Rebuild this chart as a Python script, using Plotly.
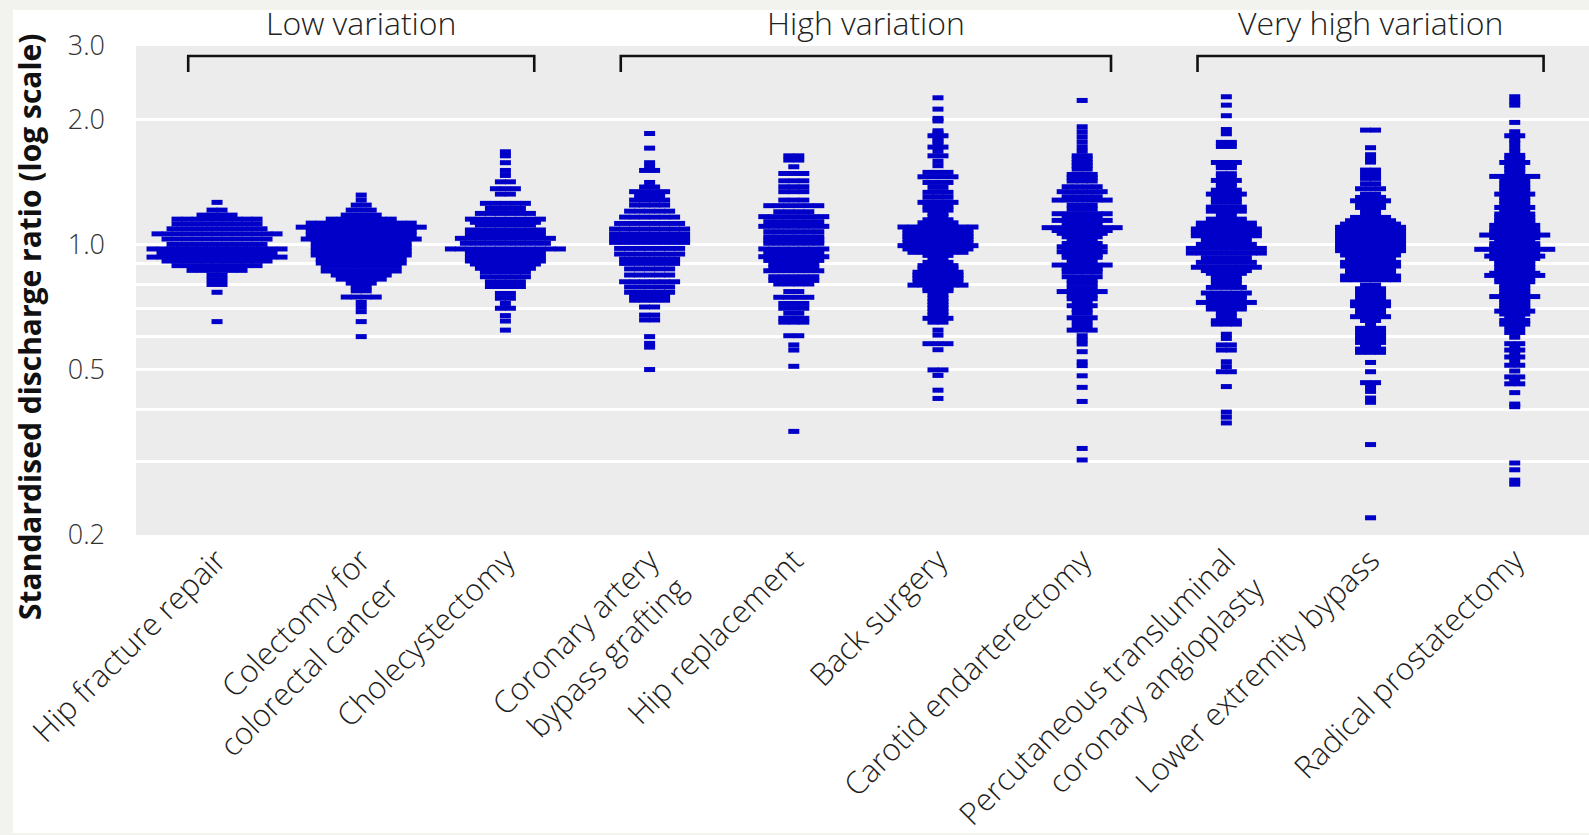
import math
import plotly.graph_objects as go

# ---------------- data ----------------
categories = [
    "Hip fracture repair",
    "Colectomy for<br>colorectal cancer",
    "Cholecystectomy",
    "Coronary artery<br>bypass grafting",
    "Hip replacement",
    "Back surgery",
    "Carotid endarterectomy",
    "Percutaneous transluminal<br>coronary angioplasty",
    "Lower extremity bypass",
    "Radical prostatectomy",
]

# each entry: [standardised discharge ratio, number of hospitals at that level]
hip_fracture_repair = [
    [1.262, 1], [1.209, 2], [1.176, 4], [1.150, 9], [1.120, 9], [1.090, 10], [1.060, 13],
    [1.030, 11], [1.000, 10], [0.975, 14], [0.953, 12], [0.932, 14], [0.912, 11], [0.889, 9],
    [0.866, 6], [0.844, 2], [0.823, 2], [0.801, 2], [0.767, 1], [0.652, 1],
]
colectomy = [
    [1.314, 1], [1.278, 1], [1.243, 2], [1.209, 3], [1.176, 4], [1.150, 7], [1.125, 11],
    [1.100, 13], [1.077, 11], [1.053, 11], [1.030, 12], [1.007, 10], [0.985, 10], [0.964, 10],
    [0.943, 10], [0.922, 9], [0.902, 9], [0.885, 8], [0.863, 8], [0.844, 6], [0.825, 5],
    [0.807, 3], [0.790, 2], [0.773, 2], [0.747, 4], [0.725, 1], [0.707, 1], [0.689, 1],
    [0.652, 1], [0.600, 1],
]
cholecystectomy = [
    [1.670, 1], [1.633, 1], [1.572, 1], [1.506, 1], [1.465, 1], [1.414, 2], [1.361, 3],
    [1.321, 2], [1.255, 5], [1.220, 4], [1.187, 6], [1.150, 8], [1.130, 7], [1.113, 6],
    [1.083, 8], [1.057, 8], [1.034, 10], [1.006, 9], [0.975, 12], [0.951, 8], [0.929, 8],
    [0.912, 8], [0.897, 7], [0.876, 6], [0.860, 5], [0.836, 5], [0.813, 4], [0.792, 4],
    [0.762, 2], [0.742, 2], [0.721, 1], [0.702, 2], [0.674, 1], [0.654, 1], [0.622, 1],
]
cabg = [
    [1.848, 1], [1.704, 1], [1.572, 1], [1.540, 1], [1.506, 2], [1.409, 1], [1.374, 2],
    [1.339, 4], [1.308, 3], [1.278, 4], [1.243, 4], [1.202, 5], [1.163, 6], [1.123, 7],
    [1.089, 8], [1.059, 8], [1.034, 8], [1.011, 8], [0.978, 7], [0.948, 7], [0.922, 6],
    [0.900, 6], [0.873, 5], [0.844, 5], [0.813, 6], [0.790, 5], [0.767, 5], [0.750, 4],
    [0.734, 4], [0.707, 2], [0.676, 2], [0.658, 2], [0.600, 1], [0.578, 1], [0.566, 1],
    [0.500, 1],
]
hip_replacement = [
    [1.633, 2], [1.595, 2], [1.537, 1], [1.481, 3], [1.422, 3], [1.376, 3], [1.339, 3],
    [1.278, 3], [1.239, 6], [1.198, 4], [1.166, 7], [1.134, 6], [1.105, 7], [1.073, 6],
    [1.043, 6], [1.024, 6], [1.006, 6], [0.975, 7], [0.951, 6], [0.934, 7], [0.915, 6],
    [0.897, 5], [0.880, 5], [0.864, 6], [0.836, 5], [0.819, 5], [0.803, 4], [0.770, 2],
    [0.746, 4], [0.721, 3], [0.702, 3], [0.683, 2], [0.664, 3], [0.650, 3], [0.603, 2],
    [0.573, 1], [0.557, 1], [0.509, 1], [0.355, 1],
]
back_surgery = [
    [2.252, 1], [2.115, 1], [2.009, 1], [1.981, 1], [1.876, 1], [1.850, 1], [1.825, 2],
    [1.797, 1], [1.772, 1], [1.745, 1], [1.714, 2], [1.675, 1], [1.633, 2], [1.585, 1],
    [1.546, 1], [1.490, 3], [1.454, 4], [1.409, 3], [1.371, 2], [1.334, 3], [1.298, 3],
    [1.262, 4], [1.236, 3], [1.209, 3], [1.187, 2], [1.166, 2], [1.146, 3], [1.127, 4],
    [1.101, 8], [1.082, 7], [1.063, 7], [1.046, 7], [1.030, 7], [1.010, 7], [0.993, 8],
    [0.975, 7], [0.957, 6], [0.941, 3], [0.925, 2], [0.905, 3], [0.889, 4], [0.872, 4],
    [0.857, 5], [0.843, 5], [0.829, 5], [0.813, 5], [0.798, 6], [0.785, 3], [0.774, 3],
    [0.758, 2], [0.742, 2], [0.728, 2], [0.715, 2], [0.702, 2], [0.689, 2], [0.676, 2],
    [0.664, 3], [0.650, 2], [0.622, 1], [0.605, 1], [0.577, 3], [0.558, 1], [0.499, 2],
    [0.484, 1], [0.446, 1], [0.426, 1],
]
carotid_endarterectomy = [
    [2.219, 1], [1.918, 1], [1.866, 1], [1.815, 1], [1.765, 1], [1.717, 1], [1.675, 1],
    [1.633, 2], [1.603, 2], [1.574, 2], [1.545, 2], [1.517, 2], [1.473, 3], [1.447, 3],
    [1.420, 3], [1.376, 4], [1.339, 5], [1.302, 4], [1.278, 6], [1.243, 3], [1.215, 3],
    [1.185, 6], [1.163, 4], [1.142, 6], [1.118, 4], [1.097, 8], [1.080, 6], [1.063, 5],
    [1.043, 4], [1.024, 3], [1.005, 4], [0.987, 5], [0.973, 4], [0.960, 5], [0.945, 4],
    [0.931, 4], [0.912, 3], [0.892, 6], [0.875, 4], [0.860, 4], [0.836, 4], [0.820, 3],
    [0.806, 3], [0.787, 3], [0.770, 5], [0.754, 3], [0.740, 3], [0.726, 2], [0.712, 3],
    [0.697, 2], [0.683, 2], [0.666, 3], [0.652, 2], [0.636, 2], [0.622, 3], [0.603, 1],
    [0.589, 1], [0.576, 1], [0.552, 1], [0.522, 1], [0.511, 1], [0.483, 1], [0.453, 1],
    [0.419, 1], [0.323, 1], [0.303, 1],
]
ptca = [
    [2.265, 1], [2.162, 1], [2.039, 1], [1.889, 1], [1.845, 1], [1.759, 2], [1.720, 2],
    [1.574, 3], [1.551, 2], [1.529, 2], [1.479, 2], [1.454, 2], [1.425, 3], [1.400, 2],
    [1.379, 2], [1.350, 3], [1.321, 4], [1.290, 3], [1.262, 3], [1.229, 4], [1.202, 4],
    [1.176, 2], [1.150, 4], [1.125, 6], [1.107, 6], [1.089, 7], [1.069, 7], [1.049, 7],
    [1.022, 5], [1.000, 6], [0.978, 8], [0.953, 8], [0.929, 5], [0.905, 6], [0.881, 7],
    [0.865, 5], [0.852, 4], [0.837, 3], [0.822, 3], [0.804, 3], [0.788, 4], [0.764, 5],
    [0.752, 4], [0.742, 4], [0.725, 6], [0.712, 4], [0.699, 4], [0.684, 2], [0.670, 2],
    [0.655, 3], [0.643, 3], [0.608, 1], [0.594, 1], [0.573, 2], [0.557, 2], [0.522, 1],
    [0.508, 1], [0.494, 2], [0.455, 1], [0.395, 1], [0.384, 1], [0.372, 1],
]
lower_extremity_bypass = [
    [1.883, 2], [1.708, 1], [1.643, 1], [1.607, 1], [1.577, 1], [1.509, 2], [1.473, 2],
    [1.441, 2], [1.399, 2], [1.361, 3], [1.321, 2], [1.297, 3], [1.273, 4], [1.250, 3],
    [1.227, 3], [1.205, 2], [1.183, 2], [1.161, 4], [1.140, 5], [1.119, 6], [1.099, 7],
    [1.079, 7], [1.059, 7], [1.039, 7], [1.020, 7], [1.000, 7], [0.984, 7], [0.966, 7],
    [0.943, 6], [0.922, 5], [0.905, 6], [0.887, 6], [0.871, 5], [0.855, 5], [0.839, 6],
    [0.822, 6], [0.798, 2], [0.782, 3], [0.768, 3], [0.754, 3], [0.742, 3], [0.727, 4],
    [0.712, 4], [0.695, 3], [0.682, 3], [0.670, 4], [0.656, 2], [0.643, 1], [0.628, 3],
    [0.615, 3], [0.603, 3], [0.592, 3], [0.581, 3], [0.571, 2], [0.560, 3], [0.550, 3],
    [0.520, 1], [0.494, 1], [0.465, 2], [0.454, 1], [0.443, 1], [0.427, 1], [0.417, 1],
    [0.330, 1], [0.220, 1],
]
radical_prostatectomy = [
    [2.265, 1], [2.211, 1], [2.162, 1], [1.965, 1], [1.866, 1], [1.825, 2], [1.781, 1],
    [1.749, 1], [1.708, 1], [1.670, 1], [1.637, 2], [1.604, 2], [1.574, 3], [1.546, 2],
    [1.517, 2], [1.487, 2], [1.457, 5], [1.428, 3], [1.397, 3], [1.371, 3], [1.346, 3],
    [1.321, 4], [1.297, 3], [1.273, 3], [1.250, 3], [1.227, 4], [1.205, 3], [1.183, 4],
    [1.161, 4], [1.142, 4], [1.125, 4], [1.111, 5], [1.097, 4], [1.083, 5], [1.067, 5],
    [1.053, 7], [1.038, 5], [1.020, 4], [1.004, 5], [0.989, 5], [0.973, 8], [0.955, 5],
    [0.937, 6], [0.925, 5], [0.914, 4], [0.897, 4], [0.881, 4], [0.864, 4], [0.852, 5],
    [0.842, 6], [0.829, 4], [0.813, 4], [0.798, 3], [0.784, 3], [0.770, 3], [0.758, 3],
    [0.749, 5], [0.736, 3], [0.725, 3], [0.712, 3], [0.702, 3], [0.691, 4], [0.680, 3],
    [0.670, 2], [0.656, 3], [0.643, 3], [0.631, 2], [0.614, 2], [0.598, 1], [0.577, 2],
    [0.567, 1], [0.557, 2], [0.547, 1], [0.536, 2], [0.524, 1], [0.512, 2], [0.496, 1],
    [0.480, 2], [0.470, 1], [0.462, 2], [0.440, 1], [0.413, 1], [0.407, 1], [0.298, 1],
    [0.287, 1], [0.271, 1], [0.265, 1],
]

swarms = [
    hip_fracture_repair, colectomy, cholecystectomy, cabg, hip_replacement,
    back_surgery, carotid_endarterectomy, ptca, lower_extremity_bypass,
    radical_prostatectomy,
]

group_labels = ["Low variation", "High variation", "Very high variation"]
group_first = [0, 3, 7]
group_last = [2, 6, 9]

ytick_vals = [0.2, 0.5, 1.0, 2.0, 3.0]
ytick_text = ["0.2", "0.5", "1.0", "2.0", "3.0"]
minor_grid_vals = [0.3, 0.4, 0.6, 0.7, 0.8, 0.9]

# ---------------- geometry & style ----------------
W, H = 1589, 835
ML, MR, MT, MB = 136, 0, 46, 300
PW, PH = W - ML - MR, H - MT - MB
X_RANGE = [-0.562, 9.515]
DASH_PX = 10
step = DASH_PX * (X_RANGE[1] - X_RANGE[0]) / PW
BLUE = "#0000c8"
FONT = "Open Sans"

xs, ys = [], []
for i, rows in enumerate(swarms):
    for ratio, n in rows:
        for k in range(n):
            xs.append(i + (k - (n - 1) / 2) * step)
            ys.append(ratio)

fig = go.Figure()
fig.add_trace(go.Scatter(
    x=xs, y=ys, mode="markers", hoverinfo="skip", showlegend=False,
    marker=dict(symbol="line-ew", size=(DASH_PX + 1) / 1.4, color=BLUE,
                line=dict(color=BLUE, width=5)),
))

def px_to_paper_x(px):
    return (px - ML) / PW

def px_to_paper_y(py):
    return (MT + PH - py) / PH

shapes = [
    # white canvas inside the light frame
    dict(type="rect", xref="paper", yref="paper", layer="below",
         x0=px_to_paper_x(13), x1=1.02, y0=px_to_paper_y(833), y1=px_to_paper_y(10),
         fillcolor="white", line=dict(width=0)),
    # grey panel
    dict(type="rect", xref="paper", yref="paper", layer="below",
         x0=0, x1=1, y0=0, y1=1, fillcolor="#ececec", line=dict(width=0)),
]
y_bar = px_to_paper_y(56)
y_tip = px_to_paper_y(72)
annotations = []
for name, a, b in zip(group_labels, group_first, group_last):
    x0, x1 = a - 0.2, b + 0.2
    shapes.append(dict(type="path", xref="x", yref="paper",
                       path=f"M {x0},{y_tip} L {x0},{y_bar} L {x1},{y_bar} L {x1},{y_tip}",
                       line=dict(color="#111111", width=2.6)))
    annotations.append(dict(x=(a + b) / 2, y=px_to_paper_y(22), xref="x", yref="paper",
                            text=name, showarrow=False, xanchor="center", yanchor="middle",
                            font=dict(family=FONT, size=32, color="#222222", weight=300)))

annotations.append(dict(
    x=px_to_paper_x(30), y=px_to_paper_y(327), xref="paper", yref="paper",
    text="<b>Standardised discharge ratio (log scale)</b>", textangle=-90,
    showarrow=False, xanchor="center", yanchor="middle",
    font=dict(family=FONT, size=30, color="#111111")))

fig.update_layout(
    width=W, height=H, autosize=False,
    margin=dict(l=ML, r=MR, t=MT, b=MB, pad=0, autoexpand=False),
    paper_bgcolor="#f2f2ee",
    plot_bgcolor="#ececec",
    shapes=shapes,
    annotations=annotations,
    xaxis=dict(range=X_RANGE, tickmode="array", tickvals=list(range(len(categories))),
               ticktext=categories, tickangle=-45, showgrid=False, zeroline=False,
               showline=False, ticks="", fixedrange=True, automargin=False,
               tickfont=dict(family=FONT, size=31, color="#1e1e1e", weight=300)),
    yaxis=dict(type="log", range=[math.log10(0.2), math.log10(3.0)],
               tickmode="array", tickvals=ytick_vals, ticktext=ytick_text,
               showgrid=True, gridcolor="white", gridwidth=3,
               minor=dict(tickmode="array", tickvals=minor_grid_vals, showgrid=True,
                          gridcolor="white", gridwidth=3, ticks=""),
               zeroline=False, showline=False, ticks="", fixedrange=True,
               automargin=False, ticklabelstandoff=30,
               tickfont=dict(family=FONT, size=27, color="#333333", weight=300)),
)

fig.write_html(
    "out.html",
    config={"responsive": False, "displayModeBar": False},
    post_script="document.body.style.margin='0';document.body.style.overflow='hidden';",
)
